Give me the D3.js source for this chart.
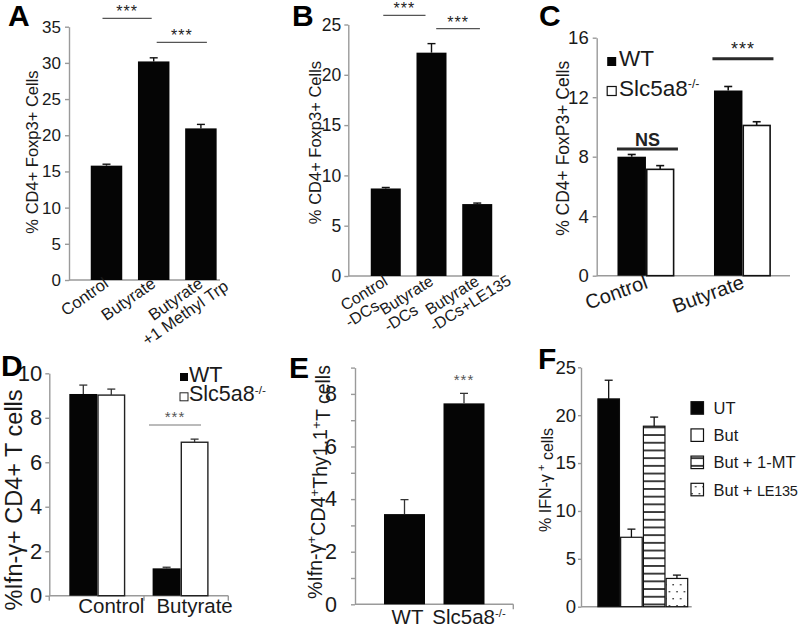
<!DOCTYPE html>
<html><head><meta charset="utf-8">
<script src="https://cdn.jsdelivr.net/npm/d3@7"></script>
<style>html,body{margin:0;padding:0;background:#fff;} svg{display:block;}</style>
</head><body>
<svg id="chart" width="800" height="629"></svg>
<script>
// ---------------- data ----------------
const catsA = ["Control", "Butyrate", "Butyrate\n+1 Methyl Trp"];
const valsA = [15.8, 30.2, 20.95];
const errA  = [0.2, 0.5, 0.55];
const ticksA = [0, 5, 10, 15, 20, 25, 30, 35];

const catsB = ["Control\n-DCs", "Butyrate\n-DCs", "Butyrate\n-DCs+LE135"];
const valsB = [8.7, 22.2, 7.15];
const errB  = [0.1, 0.9, 0.1];
const ticksB = [0, 5, 10, 15, 20, 25];

const groupsC = ["Control", "Butyrate"];
const seriesC = ["WT", "Slc5a8^-/-"];
const wtC = [8.0, 12.45];
const wtErrC = [0.15, 0.27];
const koC = [7.15, 10.1];
const koErrC = [0.25, 0.25];
const ticksC = [0, 4, 8, 12, 16];

const groupsD = ["Control", "Butyrate"];
const seriesD = ["WT", "Slc5a8^-/-"];
const wtD = [9.07, 1.23];
const wtErrD = [0.4, 0.05];
const koD = [9.02, 6.9];
const koErrD = [0.27, 0.14];
const ticksD = [0, 2, 4, 6, 8, 10];

const catsE = ["WT", "Slc5a8^-/-"];
const valsE = [3.43, 7.64];
const errE = [0.55, 0.38];
const ticksE = [0, 1, 2, 3, 4, 5, 6, 7, 8, 9];

const catsF = ["UT", "But", "But + 1-MT", "But + LE135"];
const valsF = [21.7, 7.25, 18.85, 2.95];
const errF = [1.95, 0.85, 0.95, 0.35];
const ticksF = [0, 5, 10, 15, 20, 25];

// ---------------- style ----------------
const FONT = "'Liberation Sans', Arial, Helvetica, sans-serif";
const AX = "#9a9a9a";
const TXT = "#1a1a1a";
const BAR = "#050505";

const svg = d3.select("#chart");
svg.append("rect").attr("width", 800).attr("height", 629).attr("fill", "#fff");
const defs = svg.append("defs");
const hp = defs.append("pattern").attr("id", "hatch").attr("patternUnits", "userSpaceOnUse")
  .attr("width", 8).attr("height", 7.7);
hp.append("rect").attr("width", 8).attr("height", 7.7).attr("fill", "#fff");
hp.append("line").attr("x1", 0).attr("x2", 8).attr("y1", 3.85).attr("y2", 3.85)
  .attr("stroke", "#111").attr("stroke-width", 1.6);
const dp = defs.append("pattern").attr("id", "dots").attr("patternUnits", "userSpaceOnUse")
  .attr("width", 7.5).attr("height", 14);
dp.append("rect").attr("width", 7.5).attr("height", 14).attr("fill", "#fff");
dp.append("rect").attr("x", 1.3).attr("y", 3).attr("width", 1.4).attr("height", 1.4).attr("fill", "#222");
dp.append("rect").attr("x", 5).attr("y", 10).attr("width", 1.4).attr("height", 1.4).attr("fill", "#222");

// ---------------- helpers ----------------
function richText(sel, label, supSize) {
  const parts = label.split("^");
  sel.append("tspan").text(parts[0]);
  if (parts.length > 1) {
    sel.append("tspan").attr("font-size", supSize || "0.6em").attr("dy", "-0.6em").text(parts[1]);
  }
  return sel;
}

function yAxis(x, y, ticks, opt) {
  const ax = d3.axisLeft(y).tickValues(ticks).tickSizeInner(opt.tick).tickSizeOuter(0)
    .tickPadding(opt.pad).tickFormat(opt.fmt || (d => d));
  const g = svg.append("g").attr("transform", `translate(${x},0)`).call(ax);
  g.attr("font-family", FONT).attr("font-size", opt.fs);
  g.select(".domain").attr("stroke", AX).attr("stroke-width", 1.4);
  g.selectAll(".tick line").attr("stroke", AX).attr("stroke-width", 1.4);
  g.selectAll(".tick text").attr("fill", TXT);
  return g;
}

function xLine(x0, x1, y, ticksAt, tlen) {
  svg.append("line").attr("x1", x0).attr("x2", x1).attr("y1", y).attr("y2", y)
    .attr("stroke", AX).attr("stroke-width", 1.4);
  (ticksAt || []).forEach(t => svg.append("line").attr("x1", t).attr("x2", t)
    .attr("y1", y).attr("y2", y + tlen).attr("stroke", AX).attr("stroke-width", 1.4));
}

function drawBars(data, xf, w, y, fill, stroke, sw) {
  svg.append("g").selectAll("rect").data(data).join("rect")
    .attr("x", d => xf(d)).attr("width", w)
    .attr("y", d => y(d.v)).attr("height", d => y(0) - y(d.v))
    .attr("fill", fill).attr("stroke", stroke || "none").attr("stroke-width", sw || 0);
}

function drawErr(data, cxf, y, cap, color, sw) {
  const g = svg.append("g").attr("stroke", color || "#111").attr("stroke-width", sw || 1.4);
  g.selectAll("line.v").data(data).join("line").attr("class", "v")
    .attr("x1", cxf).attr("x2", cxf).attr("y1", d => y(d.v)).attr("y2", d => y(d.v + d.e));
  g.selectAll("line.c").data(data).join("line").attr("class", "c")
    .attr("x1", d => cxf(d) - cap / 2).attr("x2", d => cxf(d) + cap / 2)
    .attr("y1", d => y(d.v + d.e)).attr("y2", d => y(d.v + d.e));
}

// rotated category labels; first line's end sits at the anchor point
function rotLabels(cats, cx, axisY, angle, fs, dx, dy, align, lh, shift2) {
  cats.forEach(c => {
    const lines = c.split("\n");
    const g = svg.append("g").attr("transform", `translate(${cx(c) + dx},${axisY + dy}) rotate(${angle})`)
      .attr("font-family", FONT).attr("font-size", fs).attr("fill", TXT);
    const t0 = g.append("text").attr("text-anchor", "end").text(lines[0]);
    const w1 = t0.node().getComputedTextLength();
    if (lines.length > 1) {
      if (align === "center") t0.attr("text-anchor", "middle").attr("x", -w1 / 2);
      lines.slice(1).forEach((l, j) => g.append("text")
        .attr("text-anchor", align === "center" ? "middle" : "start")
        .attr("x", (align === "center" ? -w1 / 2 : -w1) + (shift2 || 0)).attr("y", (j + 1) * lh).text(l));
    }
  });
}

function yTitle(cx, cy, fs, build) {
  const t = svg.append("text").attr("transform", `translate(${cx},${cy}) rotate(-90)`)
    .attr("text-anchor", "middle").attr("font-family", FONT).attr("font-size", fs).attr("fill", TXT);
  build(t);
}

function panelLetter(l, x, y) {
  svg.append("text").attr("x", x).attr("y", y).attr("font-family", FONT).attr("font-weight", "bold")
    .attr("font-size", 30).attr("fill", "#000").text(l);
}

function sig(x0, x1, y, ly, label, opt) {
  svg.append("line").attr("x1", x0).attr("x2", x1).attr("y1", y).attr("y2", y)
    .attr("stroke", opt.lc).attr("stroke-width", opt.lw);
  svg.append("text").attr("x", (x0 + x1) / 2).attr("y", ly).attr("text-anchor", "middle")
    .attr("font-family", FONT).attr("font-size", opt.fs).attr("font-weight", opt.fw || "normal")
    .attr("letter-spacing", opt.ls || 0).attr("fill", opt.tc).text(label);
}

// ================= Panel A =================
{
  const y = d3.scaleLinear().domain([0, 35]).range([280, 26.7]);
  const x = d3.scaleBand().domain(catsA).range([82.9, 224.5]).paddingInner(0.333).paddingOuter(0.1665);
  const data = catsA.map((c, i) => ({ c, v: valsA[i], e: errA[i] }));
  yAxis(69, y, ticksA, { tick: 4, pad: 4, fs: 17 });
  xLine(69, 220, 280);
  drawBars(data, d => x(d.c), x.bandwidth(), y, BAR);
  drawErr(data, d => x(d.c) + x.bandwidth() / 2, y, 8);
  const cx = c => x(c) + x.bandwidth() / 2;
  rotLabels(catsA, cx, 280, -35, 16.5, 3, 6, "center", 17);
  yTitle(37.5, 152, 16.5, t => t.text("% CD4+ Foxp3+ Cells"));
  panelLetter("A", 8, 26);
  const o = { lc: "#555", lw: 1.3, fs: 16, tc: "#222", ls: 1 };
  sig(cx(catsA[0]) - 4, cx(catsA[1]) - 2, 18.3, 17, "***", o);
  sig(cx(catsA[1]) + 3, cx(catsA[2]) + 6, 42.3, 41, "***", o);
}

// ================= Panel B =================
{
  const y = d3.scaleLinear().domain([0, 25]).range([276, 24.5]);
  const x = d3.scaleBand().domain(catsB).range([362.9, 500.1]).paddingInner(0.344).paddingOuter(0.172);
  const data = catsB.map((c, i) => ({ c, v: valsB[i], e: errB[i] }));
  yAxis(348.3, y, ticksB, { tick: 4, pad: 3, fs: 17.5 });
  xLine(348.3, 499, 276);
  drawBars(data, d => x(d.c), x.bandwidth(), y, BAR);
  drawErr(data, d => x(d.c) + x.bandwidth() / 2, y, 8);
  const cx = c => x(c) + x.bandwidth() / 2;
  rotLabels(catsB, cx, 276, -32, 16, 3, 8, "left", 16.5, -5);
  yTitle(320.5, 142.5, 16.5, t => t.text("% CD4+ Foxp3+ Cells"));
  panelLetter("B", 292, 26);
  const o = { lc: "#555", lw: 1.3, fs: 16, tc: "#222", ls: 1 };
  sig(cx(catsB[0]) - 2.5, cx(catsB[1]) - 6, 15.3, 14, "***", o);
  sig(cx(catsB[1]) + 4.7, cx(catsB[2]) + 2.7, 28.7, 27.5, "***", o);
}

// ================= Panel C =================
{
  const y = d3.scaleLinear().domain([0, 16]).range([275.7, 37.7]);
  const xg = d3.scaleBand().domain(groupsC).range([597.7, 790.7]).paddingInner(0.41).paddingOuter(0.205);
  const xs = d3.scaleBand().domain(seriesC).range([0, xg.bandwidth()]);
  const wt = groupsC.map((g, i) => ({ g, s: seriesC[0], v: wtC[i], e: wtErrC[i] }));
  const ko = groupsC.map((g, i) => ({ g, s: seriesC[1], v: koC[i], e: koErrC[i] }));
  yAxis(596.7, y, ticksC, { tick: 4, pad: 4, fs: 18.5 });
  xLine(596.7, 790, 275.7);
  drawBars(wt, d => xg(d.g) + xs(d.s), xs.bandwidth(), y, BAR);
  drawBars(ko, d => xg(d.g) + xs(d.s) + 0.8, xs.bandwidth() - 1.6, y, "#fff", "#111", 1.6);
  const cxs = d => xg(d.g) + xs(d.s) + xs.bandwidth() / 2;
  drawErr(wt, cxs, y, 8, "#111", 1.6);
  drawErr(ko, cxs, y, 8, "#111", 1.6);
  rotLabels(groupsC, g => xg(g) + xg.bandwidth() / 2, 275.7, -20, 20, 3, 12, "center", 20);
  yTitle(569, 148.3, 17.5, t => t.text("% CD4+ FoxP3+ Cells"));
  panelLetter("C", 539, 26);
  const leg = svg.append("g").attr("font-family", FONT).attr("font-size", 22.5).attr("fill", TXT);
  seriesC.forEach((s, i) => {
    leg.append("rect").attr("x", 607.2).attr("y", 57 + i * 29.5).attr("width", 9).attr("height", 9)
      .attr("fill", i === 0 ? BAR : "#fff").attr("stroke", "#111").attr("stroke-width", i === 0 ? 0 : 1.2);
    richText(leg.append("text").attr("x", 619).attr("y", 66 + i * 29.5), s, "0.55em");
  });
  const cg = g => xg(g) + xg.bandwidth() / 2;
  const o = { lc: "#2a2a2a", lw: 3, fs: 18, tc: "#222", ls: 1 };
  sig(cg(groupsC[0]) - 29, cg(groupsC[0]) + 32, 149, 145.5, "NS", Object.assign({}, o, { fw: "bold", ls: 0 }));
  sig(cg(groupsC[1]) - 30, cg(groupsC[1]) + 31, 58.7, 55, "***", o);
}

// ================= Panel D =================
{
  const y = d3.scaleLinear().domain([0, 10]).range([595.7, 373.3]);
  const xg = d3.scaleBand().domain(groupsD).range([55.65, 222.25]).paddingInner(0.328).paddingOuter(0.164);
  const xs = d3.scaleBand().domain(seriesD).range([0, xg.bandwidth()]);
  const wt = groupsD.map((g, i) => ({ g, s: seriesD[0], v: wtD[i], e: wtErrD[i] }));
  const ko = groupsD.map((g, i) => ({ g, s: seriesD[1], v: koD[i], e: koErrD[i] }));
  yAxis(49.3, y, ticksD, { tick: 4, pad: 3, fs: 22 });
  xLine(49.3, 228.3, 595.7, [49.3, 144, 228.3], 5);
  drawBars(wt, d => xg(d.g) + xs(d.s), xs.bandwidth(), y, BAR);
  drawBars(ko, d => xg(d.g) + xs(d.s) + 0.7, xs.bandwidth() - 1.4, y, "#fff", "#222", 1.4);
  const cxs = d => xg(d.g) + xs(d.s) + xs.bandwidth() / 2;
  drawErr(wt, cxs, y, 8, "#333", 1.3);
  drawErr(ko, cxs, y, 8, "#333", 1.3);
  svg.append("g").attr("font-family", FONT).attr("font-size", 20.5).attr("fill", TXT)
    .selectAll("text").data(groupsD).join("text")
    .attr("x", g => xg(g) + xg.bandwidth() / 2 + 14).attr("y", 613.3).attr("text-anchor", "middle").text(g => g);
  yTitle(22, 500, 23.5, t => t.text("%Ifn-γ+ CD4+ T cells"));
  panelLetter("D", 1, 376);
  const leg = svg.append("g").attr("font-family", FONT).attr("font-size", 21.5).attr("fill", TXT);
  seriesD.forEach((s, i) => {
    leg.append("rect").attr("x", 180).attr("y", 373 + i * 19.8).attr("width", 8).attr("height", 8)
      .attr("fill", i === 0 ? BAR : "#fff").attr("stroke", "#222").attr("stroke-width", i === 0 ? 0 : 1);
    richText(leg.append("text").attr("x", 189).attr("y", 381.5 + i * 19.8), s, "0.55em");
  });
  const o = { lc: "#777", lw: 1, fs: 15, tc: "#555", ls: 1 };
  sig(149, 201, 425, 422, "***", o);
}

// ================= Panel E =================
{
  const y = d3.scaleLinear().domain([0, 9]).range([604.3, 367.6]);
  const x = d3.scaleBand().domain(catsE).range([374.75, 493.75]).paddingInner(0.311).paddingOuter(0.1555);
  const data = catsE.map((c, i) => ({ c, v: valsE[i], e: errE[i] }));
  yAxis(355, y, ticksE, { tick: 4, pad: 14, fs: 21.5, fmt: d => (d % 2 === 0 ? d : "") });
  xLine(355, 513.3, 604.3, [513.3], 5);
  drawBars(data, d => x(d.c), x.bandwidth(), y, BAR);
  drawErr(data, d => x(d.c) + x.bandwidth() / 2, y, 8, "#333", 1.3);
  const lab = svg.append("g").attr("font-family", FONT).attr("font-size", 20.5).attr("fill", TXT);
  const offs = [3, 5];
  catsE.forEach((c, i) => {
    richText(lab.append("text").attr("x", x(c) + x.bandwidth() / 2 + offs[i]).attr("y", 624)
      .attr("text-anchor", "middle"), c, "0.55em");
  });
  yTitle(322, 482, 19.5, t => {
    t.append("tspan").text("%Ifn-γ");
    t.append("tspan").attr("dy", "-0.45em").attr("font-size", "0.7em").text("+");
    t.append("tspan").attr("dy", "0.45em").text("CD4");
    t.append("tspan").attr("dy", "-0.45em").attr("font-size", "0.7em").text("+");
    t.append("tspan").attr("dy", "0.45em").text("Thy1.1");
    t.append("tspan").attr("dy", "-0.45em").attr("font-size", "0.7em").text("+");
    t.append("tspan").attr("dy", "0.45em").text("T cells");
  });
  panelLetter("E", 289, 378);
  svg.append("text").attr("x", x(catsE[1]) + x.bandwidth() / 2).attr("y", 385).attr("text-anchor", "middle")
    .attr("font-family", FONT).attr("font-size", 15).attr("letter-spacing", 1).attr("fill", "#555").text("***");
}

// ================= Panel F =================
{
  const y = d3.scaleLinear().domain([0, 25]).range([606.7, 367.3]);
  const x = d3.scaleBand().domain(catsF).range([597.3, 688.3]);
  const fills = [BAR, "#fff", "url(#hatch)", "url(#dots)"];
  const data = catsF.map((c, i) => ({ c, v: valsF[i], e: errF[i], f: fills[i] }));
  yAxis(581, y, ticksF, { tick: 3, pad: 2, fs: 18.5 });
  xLine(581, 691.7, 606.7);
  svg.append("g").selectAll("rect").data(data).join("rect")
    .attr("x", d => x(d.c) + 0.6).attr("width", x.bandwidth() - 1.2)
    .attr("y", d => y(d.v)).attr("height", d => y(0) - y(d.v))
    .attr("fill", d => d.f).attr("stroke", "#111").attr("stroke-width", 1.2);
  drawErr(data, d => x(d.c) + x.bandwidth() / 2, y, 8, "#111", 1.3);
  yTitle(550.5, 480, 16, t => {
    t.append("tspan").text("% IFN-γ");
    t.append("tspan").attr("dy", "-0.45em").attr("font-size", "0.7em").text(" +");
    t.append("tspan").attr("dy", "0.45em").text(" cells");
  });
  panelLetter("F", 538, 369);
  const leg = svg.append("g").attr("font-family", FONT).attr("font-size", 16.5).attr("fill", TXT);
  catsF.forEach((c, i) => {
    leg.append("rect").attr("x", 691).attr("y", 401.7 + i * 27.2).attr("width", 12.5).attr("height", 12.5)
      .attr("fill", fills[i]).attr("stroke", "#111").attr("stroke-width", 1.2);
    const t = leg.append("text").attr("x", 713.5).attr("y", 414 + i * 27.2);
    const m = c.match(/^(.*?)(LE\d+)$/);
    if (m) {
      t.append("tspan").text(m[1]);
      t.append("tspan").attr("font-size", 14.5).attr("letter-spacing", -0.3).text(m[2]);
    } else {
      t.text(c);
    }
  });
}
</script>
</body></html>
